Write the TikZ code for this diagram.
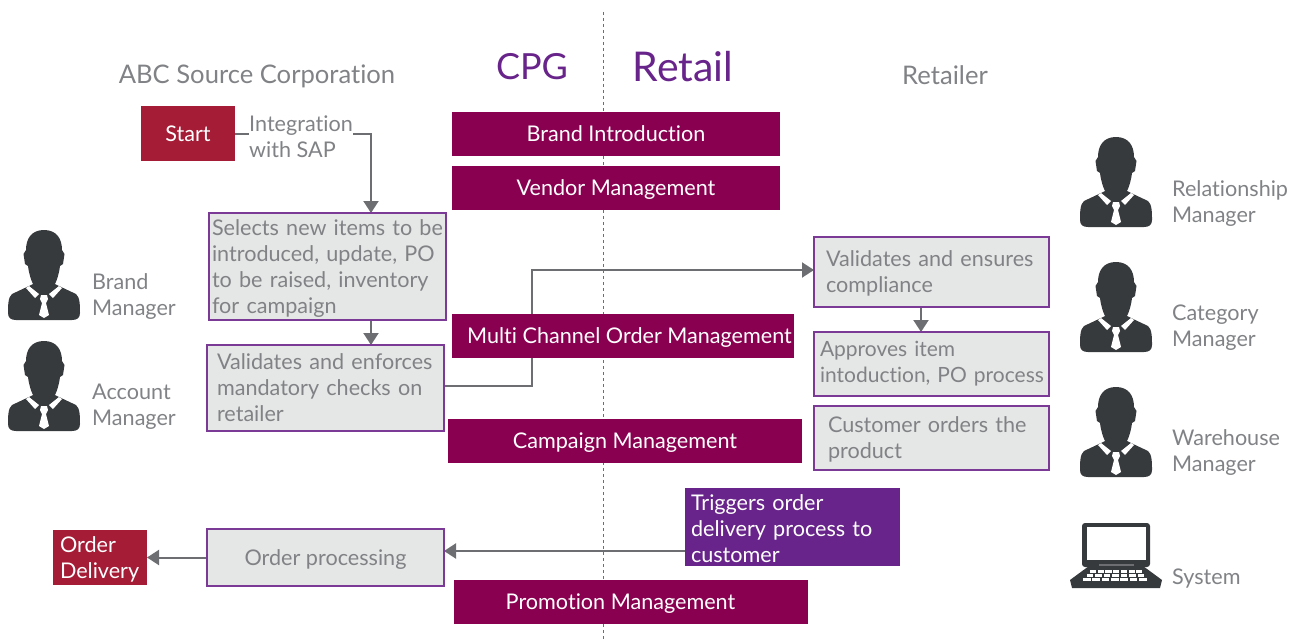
\documentclass[tikz,border=0pt]{standalone}
\usepackage{fontspec}
\setmainfont{Lato}[Ligatures=NoCommon]
\usetikzlibrary{arrows.meta,backgrounds}

\definecolor{plum}{HTML}{8A0051}
\definecolor{crimson}{HTML}{A51C36}
\definecolor{violet}{HTML}{68248A}
\definecolor{edgeviolet}{HTML}{7B3A96}
\definecolor{panel}{HTML}{E5E7E6}
\definecolor{txtgray}{HTML}{808285}
\definecolor{linegray}{HTML}{6D6E71}
\definecolor{icongray}{HTML}{373A3D}

\newcommand{\nudgetext}[1]{\rule{0pt}{#1pt}}

\tikzset{
	bodyfont/.style = {font=\fontsize{21.6}{26}\selectfont},
	oneline/.style = {text height=18pt, text depth=3pt},
	band/.style 2 args = {fill=plum, text=white, bodyfont, oneline, minimum width=#1, minimum height=#2, inner sep=0pt, outer sep=0pt},
	padded/.style = {text width=#1, inner sep=0pt, outer sep=0pt},
	inset/.style = {execute at begin node={\leftskip=#1pt\rightskip=0pt plus 1fil\parfillskip=0pt plus 1fil\hyphenpenalty=10000\relax}},
	procbox/.style 2 args = {fill=panel, draw=edgeviolet, line width=1.5pt, text=txtgray, bodyfont, padded=#1, inset=#2},
	redbox/.style = {fill=crimson, text=white, bodyfont, inner sep=0pt, outer sep=0pt},
	label/.style = {text=txtgray, bodyfont, align=left, anchor=west, inner sep=0pt},
	head/.style = {text=txtgray, font=\fontsize{25.6}{30}\selectfont},
	title/.style = {text=violet, font=\fontsize{41}{48}\selectfont},
	flow/.style = {draw=linegray, line width=2pt, -{Triangle[length=12pt,width=15pt]}},
	person/.pic = {
		\fill[icongray] (0,0) .. controls (-12,0) and (-18,8) .. (-18,20) -- (-20.5,24) -- (-19,34) -- (-16,36)
			.. controls (-15,44) and (-13,50) .. (-11,54) -- (-15,56) -- (-32,64)
			.. controls (-36,67) and (-36,76) .. (-36,83) .. controls (-36,88) and (-33,90) .. (-28,90)
			-- (28,90) .. controls (33,90) and (36,88) .. (36,83) .. controls (36,76) and (36,67) .. (32,64)
			-- (15,56) -- (11,54) .. controls (13,50) and (15,44) .. (16,36) -- (19,34) -- (20.5,24) -- (18,20)
			.. controls (18,8) and (12,0) .. (0,0) -- cycle;
		\fill[white] (-15,56) -- (-5,64) -- (-9,68) -- (-18,58) -- cycle;
		\fill[white] (15,56) -- (5,64) -- (9,68) -- (18,58) -- cycle;
		\fill[white] (-3,65) -- (3,65) -- (4,69) -- (2,73) -- (5,85) -- (0,88) -- (-5,85) -- (-2,73) -- (-4,69) -- cycle;
	},
	laptop/.pic = {
		\fill[icongray, rounded corners=3pt] (-34,0) rectangle (34,44);
		\fill[white] (-29,4) rectangle (30,37);
		\fill[icongray] (-27,43) -- (27,43) -- (46,57) -- (44,65) -- (-44,65) -- (-46,57) -- cycle;
		\fill[linegray] (-17,40.5) rectangle (18,43);
		\foreach \rowy/\rowx/\keystep in {47/-26/7.7,51/-29.5/8.5,55/-33/9.3}
			\foreach \keyn in {0,...,6}
				\fill[white] (\rowx+\keyn*\keystep,\rowy) rectangle ++(\keystep-1.6,2.8);
	}
}

\begin{document}
\begin{tikzpicture}[x=1pt,y=-1pt]
	\useasboundingbox (0,0) rectangle (1302,642);

	% helper positions for the connectors
	\coordinate (col_a) at (371,0);
	\coordinate (col_b) at (921,0);
	\coordinate (col_c) at (532,0);
	\coordinate (row_a) at (0,386);
	\coordinate (row_b) at (0,270);
	\coordinate (row_c) at (0,551);
	\coordinate (rule_top) at (603,12);
	\coordinate (rule_bottom) at (603,642);

	\node[head] (head_abc) at (257,76) {ABC Source Corporation};
	\node[title, font=\fontsize{36}{48}\selectfont] (head_cpg) at (532,67) {CPG};
	\node[title] (head_retail) at (683,67) {Retail};
	\node[head] (head_retailer) at (945,75) {Retailer};

	\node[band={328}{44}] (brand) at (616,134) {Brand Introduction};
	\node[band={328}{44}] (vendor) at (616,188) {Vendor Management};
	\node[band={342}{44}] (multi) at (623,336) {\hspace*{13pt}Multi Channel Order Management};
	\node[band={354}{44}] (campaign) at (625,441) {Campaign Management};
	\node[band={354}{44}] (promotion) at (631,602) {Promotion Management\hspace*{21pt}};

	\node[redbox, oneline, minimum width=94, minimum height=55] (start) at (188,133.5) {Start};
	\node[redbox, minimum width=94, minimum height=55, align=left, text width=80] (delivery) at (100,557.5) {\nudgetext{20}Order\\Delivery};

	\node[procbox={237}{3}, minimum height=107] (selects) at (327.5,266.5) {\nudgetext{20}Selects new items to be\\introduced, update, PO\\to be raised, inventory\\for campaign};
	\node[procbox={237}{10}, minimum height=86] (validates) at (325.5,388) {Validates and enforces\\mandatory checks on\\retailer};
	\node[procbox={235}{12}, minimum height=70] (ensures) at (931.5,272) {\nudgetext{18}Validates and ensures\\compliance};
	\node[procbox={235}{6}, minimum height=64, font=\fontsize{21}{26}\selectfont] (approves) at (931.5,364) {Approves item\\intoduction, PO process};
	\node[procbox={235}{14}, minimum height=64] (customer) at (931.5,438) {\nudgetext{18}Customer orders the\\product};
	\node[fill=violet, text=white, bodyfont, padded=215, inset=6, minimum height=78] (triggers) at (792.5,527) {\nudgetext{20}Triggers order\\delivery process to\\customer};
	\node[fill=panel, draw=edgeviolet, line width=1.5pt, text=txtgray, bodyfont, oneline, minimum width=237, minimum height=57, inner sep=0pt, outer sep=0pt] (processing) at (325.5,557.5) {Order processing};

	\node[label, fill=white] (integration) at (249,137) {Integration\\with SAP};

	\node[label] (label_brand) at (92,297) {Brand\\Manager};
	\node[label] (label_account) at (92,407) {Account\\Manager};
	\node[label] (label_relationship) at (1172,204) {Relationship\\Manager};
	\node[label] (label_category) at (1172,328) {Category\\Manager};
	\node[label] (label_warehouse) at (1172,453) {Warehouse\\Manager};
	\node[label] (label_system) at (1172,579) {System};

	\pic at (44,230) {person};
	\pic at (44,341) {person};
	\pic at (1116,137) {person};
	\pic at (1116,262) {person};
	\pic at (1116,387) {person};
	\pic at (1116,523) {laptop};

	\begin{pgfonlayer}{background}
		\draw[draw=linegray, line width=1pt, dashed] (rule_top) -- (rule_bottom);
		\draw[flow] (start.east) -| (selects.north -| col_a);
		\draw[flow] (selects.south -| col_a) -- (validates.north -| col_a);
		\draw[flow] (validates.east |- row_a) -| (col_c |- row_b) -- (ensures.west |- row_b);
		\draw[flow] (ensures.south -| col_b) -- (approves.north -| col_b);
		\draw[flow] (triggers.west |- row_c) -- (processing.east |- row_c);
		\draw[flow] (processing.west) -- (delivery.east);
	\end{pgfonlayer}
\end{tikzpicture}
\end{document}
